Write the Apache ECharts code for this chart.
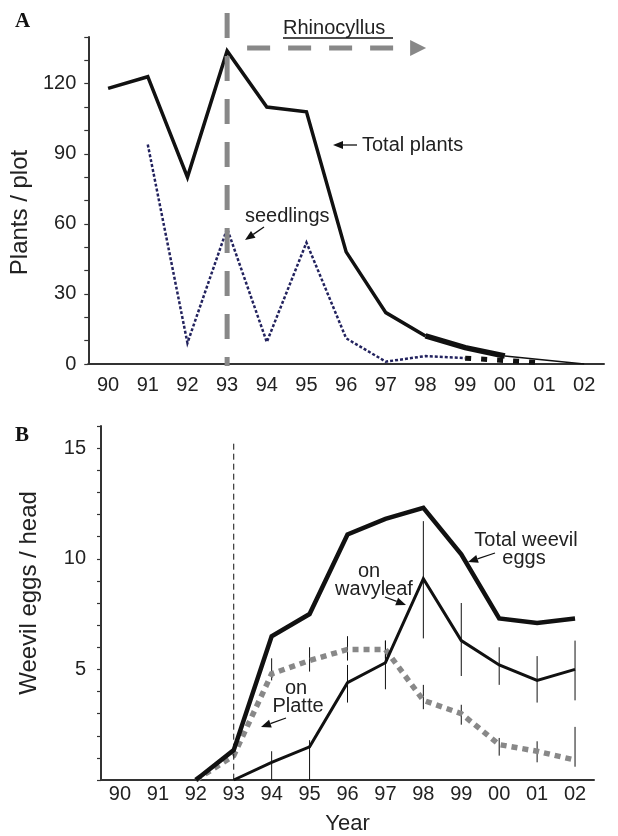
<!DOCTYPE html>
<html><head><meta charset="utf-8">
<script src="https://cdn.jsdelivr.net/npm/echarts@6/dist/echarts.min.js"></script>
<style>html,body{margin:0;padding:0;background:#fff}#c{width:618px;height:836px}</style>
</head><body><div id="c"></div>
<script>
// ---- data ----
const years = ['90','91','92','93','94','95','96','97','98','99','00','01','02'];
// Panel A: plants per plot
const totalPlants = [118,123,80,134,110,108,48,22,12,7,3.4,1.7,0];
const seedlings   = [null,94,9,58,9.4,52,11,1,3.4,2.5,1.5,0.5,null];
// Panel B: weevil eggs per head
const totalEggs    = [null,null,0,1.35,6.5,7.5,11.1,11.8,12.3,10.2,7.3,7.1,7.3];
const wavyleafEggs = [null,null,null,0,0.8,1.5,4.4,5.3,9.1,6.3,5.2,4.5,5.0];
const platteEggs   = [null,null,0,1.1,4.8,5.4,5.9,5.9,3.6,3.0,1.6,1.3,0.9];
const wavyleafLow  = [null,null,null,null,0,0,3.5,4.1,6.4,4.7,4.3,3.5,3.6];
const wavyleafHigh = [null,null,null,null,1.3,1.8,5.2,6.3,11.7,8.0,6.0,5.6,6.3];
const platteLow    = [null,null,null,null,4.5,4.9,5.4,5.5,3.2,2.5,1.1,0.8,0.6];
const platteHigh   = [null,null,null,null,5.5,6.0,6.5,6.3,4.3,3.4,1.9,1.75,2.4];
const totalLow     = [null,null,null,1.25,null,null,null,null,null,null,null,null,null];
const totalHigh    = [null,null,null,1.55,null,null,null,null,null,null,null,null,null];
const labelTicksA = [0,30,60,90,120];
const labelTicksB = [5,10,15];
const releaseYear = '93';

// ---- helpers ----
const FONT = '"Liberation Sans", Arial, sans-serif';
const seg = (arr, a, b) => arr.map((v, i) => (i >= a && i <= b ? v : null));
const bars = (lo, hi) => lo.map((v, i) => (v == null || hi[i] == null ? null : [i, v, hi[i]])).filter(Boolean);
const idxRelease = years.indexOf(releaseYear);

const chart = echarts.init(document.getElementById('c'), null, {renderer: 'canvas'});

const axisCommon = {
  axisLine: {show: true, onZero: false, lineStyle: {color: '#333', width: 2}},
  splitLine: {show: false}
};

function lineSeries(data, xi, color, width, type, z) {
  return {type: 'line', xAxisIndex: xi, yAxisIndex: xi, data, symbol: 'none',
    connectNulls: false, z: z || 3, silent: true,
    lineStyle: {color, width, type: type || 'solid', cap: 'butt', join: 'miter'}};
}

function errSeries(data) {
  return {type: 'custom', xAxisIndex: 1, yAxisIndex: 1, data, z: 2, silent: true,
    encode: {x: 0, y: [1, 2]},
    renderItem: (params, api) => {
      const x = api.value(0);
      const p1 = api.coord([x, api.value(1)]);
      const p2 = api.coord([x, api.value(2)]);
      return {type: 'line', shape: {x1: p1[0], y1: p1[1], x2: p2[0], y2: p2[1]},
        style: {stroke: '#111', lineWidth: 1}};
    }};
}

const option = {
  animation: false,
  backgroundColor: '#fff',
  textStyle: {fontFamily: FONT},
  grid: [
    {left: 88, right: 14, top: 37, bottom: 472},
    {left: 101, right: 24, top: 426, bottom: 55}
  ],
  xAxis: [
    Object.assign({}, axisCommon, {
      type: 'category', gridIndex: 0, data: years, boundaryGap: true,
      axisTick: {alignWithLabel: true, inside: true, length: 8, lineStyle: {color: '#333', width: 1.2},
        interval: (i) => i <= 9},
      axisLabel: {interval: 0, margin: 11, fontSize: 20, color: '#222', fontFamily: FONT}
    }),
    Object.assign({}, axisCommon, {
      type: 'category', gridIndex: 1, data: years, boundaryGap: true,
      axisTick: {alignWithLabel: true, inside: true, length: 9, lineStyle: {color: '#333', width: 1.2},
        interval: (i) => i >= 2},
      axisLabel: {interval: 0, margin: 4, fontSize: 20, color: '#222', fontFamily: FONT},
      name: 'Year', nameLocation: 'middle', nameGap: 33,
      nameTextStyle: {fontSize: 22, color: '#222', fontFamily: FONT}
    })
  ],
  yAxis: [
    Object.assign({}, axisCommon, {
      type: 'value', gridIndex: 0, min: 0, max: 140, interval: 10,
      axisTick: {show: true, length: 4, lineStyle: {color: '#333', width: 1.2}},
      axisLabel: {fontSize: 20, color: '#222', margin: 12, fontFamily: FONT,
        formatter: (v) => (labelTicksA.indexOf(v) >= 0 ? String(v) : '')},
      name: 'Plants / plot', nameLocation: 'middle', nameGap: 46,
      nameTextStyle: {fontSize: 24, color: '#222', fontFamily: FONT, padding: [0, 24, 0, 0]}
    }),
    Object.assign({}, axisCommon, {
      type: 'value', gridIndex: 1, min: 0, max: 16, interval: 1,
      axisTick: {show: true, length: 4, lineStyle: {color: '#333', width: 1.2}},
      axisLabel: {fontSize: 20, color: '#222', margin: 15, fontFamily: FONT,
        formatter: (v) => (labelTicksB.indexOf(v) >= 0 ? String(v) : '')},
      name: 'Weevil eggs / head', nameLocation: 'middle', nameGap: 60,
      nameTextStyle: {fontSize: 24, color: '#222', fontFamily: FONT, padding: [0, 0, 0, 20]}
    })
  ],
  series: [
    // Panel A
    lineSeries(seg(totalPlants, 0, 8), 0, '#111', 3.5, 'solid', 4),
    lineSeries(seg(totalPlants, 8, 10), 0, '#111', 5.5, 'solid', 4),
    lineSeries(seg(totalPlants, 10, 12), 0, '#111', 1.5, 'solid', 4),
    lineSeries(seg(seedlings, 1, 9), 0, '#22225e', 2.5, [3, 2], 3),
    lineSeries(seg(seedlings, 9, 11), 0, '#111', 5, [6, 10], 3),
    // Panel B
    errSeries(bars(wavyleafLow, wavyleafHigh)),
    errSeries(bars(platteLow, platteHigh)),
    errSeries(bars(totalLow, totalHigh)),
    lineSeries(platteEggs, 1, '#888', 5.5, [6, 5], 3),
    lineSeries(wavyleafEggs, 1, '#111', 3, 'solid', 4),
    lineSeries(totalEggs, 1, '#111', 4.5, 'solid', 5)
  ]
};
chart.setOption(option);

// ---- annotations ----
function arrow(x1, y1, x2, y2, len, w) {
  len = len || 10; w = w || 4;
  const dx = x2 - x1, dy = y2 - y1, L = Math.hypot(dx, dy), ux = dx / L, uy = dy / L;
  const bx = x2 - ux * len, by = y2 - uy * len;
  return [
    {type: 'line', shape: {x1, y1, x2: bx, y2: by}, style: {stroke: '#111', lineWidth: 1.3}},
    {type: 'polygon', shape: {points: [[x2, y2], [bx - uy * w, by + ux * w], [bx + uy * w, by - ux * w]]},
      style: {fill: '#111'}}
  ];
}
function txt(text, x, y, align, size, extra) {
  return Object.assign({type: 'text', style: {text, x, y, font: (size || 20) + 'px ' + FONT, fill: '#222',
    align: align || 'left', textAlign: align || 'left', verticalAlign: 'middle', textVerticalAlign: 'middle'}}, extra || {});
}

const pA0 = chart.convertToPixel({xAxisIndex: 0, yAxisIndex: 0}, [idxRelease, 0]);
const pB0 = chart.convertToPixel({xAxisIndex: 1, yAxisIndex: 1}, [idxRelease, 0]);
const pB1 = chart.convertToPixel({xAxisIndex: 1, yAxisIndex: 1}, [idxRelease, 15.2]);
const xA = pA0[0];
const arrowY = 48;

const g = [
  // Rhinocyllus release (panel A)
  {type: 'line', shape: {x1: xA, y1: 13, x2: xA, y2: pA0[1] + 2},
    style: {stroke: '#888', lineWidth: 5, lineDash: [25, 18]}, z: 10},
  {type: 'line', shape: {x1: xA + 20, y1: arrowY, x2: xA + 168, y2: arrowY},
    style: {stroke: '#888', lineWidth: 5, lineDash: [23, 18]}, z: 10},
  {type: 'polygon', shape: {points: [[xA + 183, arrowY - 8], [xA + 199, arrowY], [xA + 183, arrowY + 8]]},
    style: {fill: '#888'}, z: 10},
  txt('Rhinocyllus', 283, 28, 'left', 20),
  {type: 'line', shape: {x1: 283, y1: 38, x2: 393, y2: 38}, style: {stroke: '#111', lineWidth: 1.5}},
  txt('Total plants', 362, 145, 'left', 20),
  ...arrow(357, 145, 333, 145),
  txt('seedlings', 245, 216, 'left', 20),
  ...arrow(264, 227, 245, 240),
  // Panel B
  {type: 'line', shape: {x1: pB0[0], y1: pB1[1], x2: pB0[0], y2: pB0[1]},
    style: {stroke: '#111', lineWidth: 1, lineDash: [6, 4]}, z: 10},
  txt('Total weevil', 526, 540, 'center', 20),
  txt('eggs', 524, 558, 'center', 20),
  ...arrow(495, 553, 468, 562, 10, 4),
  txt('on', 369, 571, 'center', 20),
  txt('wavyleaf', 374, 589, 'center', 20),
  ...arrow(385, 597, 406, 605, 10, 4),
  txt('on', 296, 688, 'center', 20),
  txt('Platte', 298, 706, 'center', 20),
  ...arrow(286, 718, 261, 727, 10, 4),
  // panel letters
  {type: 'text', style: {text: 'A', x: 15, y: 22, font: 'bold 21px "Liberation Serif", "Times New Roman", serif',
    fill: '#111', align: 'left', verticalAlign: 'middle', textAlign: 'left', textVerticalAlign: 'middle'}},
  {type: 'text', style: {text: 'B', x: 15, y: 436, font: 'bold 21px "Liberation Serif", "Times New Roman", serif',
    fill: '#111', align: 'left', verticalAlign: 'middle', textAlign: 'left', textVerticalAlign: 'middle'}}
];
chart.setOption({graphic: {elements: g}});
</script>
</body></html>
